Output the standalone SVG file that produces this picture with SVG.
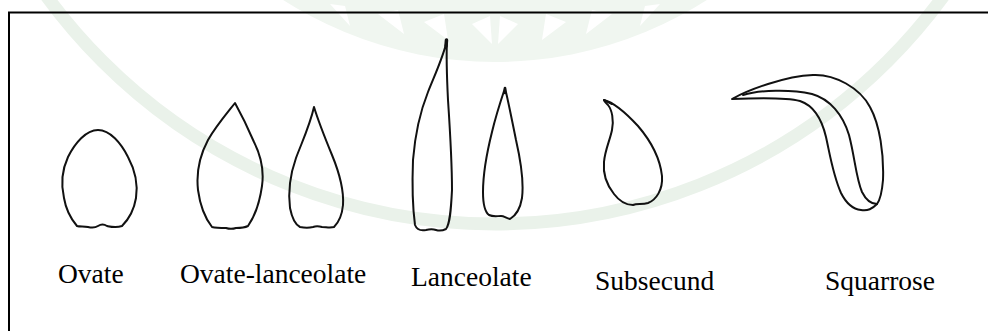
<svg xmlns="http://www.w3.org/2000/svg" width="988" height="331" viewBox="0 0 988 331">
  <style>
    .leaf { fill: none; stroke: #111; stroke-width: 2; stroke-linejoin: round; stroke-linecap: round; }
    .label { font-family: "Liberation Serif", "Times New Roman", serif; font-size: 27.5px; fill: #000; }
    .seal-ring { fill: none; stroke: #eaf2ea; stroke-width: 13; }
    .seal-disk { fill: #f0f6f0; }
    .seal-cut { fill: #ffffff; }
  </style>

  <rect x="0" y="0" width="988" height="331" fill="#ffffff"/>

  <!-- faint seal in the background -->
  <g id="seal">
    <circle class="seal-disk" cx="495" cy="-331" r="393"/>
    <path class="seal-cut" d="M330,4 L350,26 L345,6 Z"/>
    <path class="seal-cut" d="M378,14 L404,34 L398,10 Z"/>
    <path class="seal-cut" d="M424,22 L448,40 L444,14 Z"/>
    <path class="seal-cut" d="M472,24 L492,44 L490,16 Z"/>
    <path class="seal-cut" d="M500,16 L498,44 L518,24 Z"/>
    <path class="seal-cut" d="M546,14 L542,40 L566,22 Z"/>
    <path class="seal-cut" d="M592,10 L586,34 L612,14 Z"/>
    <path class="seal-cut" d="M645,6 L640,26 L660,4 Z"/>
    <circle class="seal-ring" cx="495" cy="-331" r="555"/>
  </g>

  <!-- frame -->
  <path d="M9,331 V12.5 H988" fill="none" stroke="#000" stroke-width="2"/>

  <g id="ovate">
    <path class="leaf" d="M98,130 C110,130 121,143 128,157 C135,170 138,185 136,198 C134,210 128,220 122,226 C116,228 112,227 107,226 C104,224 101,224 98,226 C95,228 92,228 88,227 C84,226 80,227 77,226 C71,219 66,210 64,198 C61,185 62,170 68,157 C75,143 86,130 98,130 Z"/>
    <text class="label" x="58" y="283">Ovate</text>
  </g>

  <g id="ovate-lanceolate">
    <path class="leaf" d="M235,103 C240,112 248,128 254,142 C261,156 264,172 262,186 C260,200 255,216 248,226 C244,228 240,228 236,228 C233,229 229,229 226,228 C221,228 216,228 212,227 C205,218 200,205 198,190 C196,172 200,155 208,140 C216,126 228,112 235,103 Z"/>
    <path class="leaf" d="M314,107 C318,120 325,138 332,155 C339,172 344,190 343,205 C342,216 338,223 334,227 C330,228 326,227 322,227 C318,226 316,226 313,227 C309,228 305,228 300,227 C296,225 292,218 290,208 C288,192 290,175 296,158 C302,142 310,125 314,107 Z"/>
    <text class="label" x="180" y="283">Ovate-lanceolate</text>
  </g>

  <g id="lanceolate">
    <path class="leaf" d="M447,40 C444,55 436,72 428,92 C420,112 415,135 413,160 C412,185 413,210 415,225 C417,230 421,231 426,230 C430,229 433,229 436,230 C439,231 442,231 446,229 C450,224 451,210 452,190 C452,160 450,130 448,100 C447,80 446,60 447,40 Z"/>
    <path d="M446.5,40 L446,46" stroke="#111" stroke-width="3.5" stroke-linecap="round"/>
    <path class="leaf" d="M505,88 C501,100 496,115 492,132 C487,152 483,172 483,192 C483,205 485,212 489,215 C493,217 497,216 501,216 C504,216 506,218 510,219 C515,216 520,210 522,198 C524,182 521,162 516,140 C512,120 508,100 505,88 Z"/>
    <path d="M505,88 L505,93" stroke="#111" stroke-width="2.6" stroke-linecap="round"/>
    <text class="label" x="411" y="286">Lanceolate</text>
  </g>

  <g id="subsecund">
    <path class="leaf" d="M604,100 C612,102 625,112 638,126 C650,140 660,158 662,176 C663,190 656,200 648,203 C642,205 637,203 633,205 C627,205 620,202 614,194 C606,184 603,172 604,162 C605,150 610,140 612,130 C614,120 612,110 608,105 C606,103 604,101 604,100 Z"/>
    <path class="leaf" d="M604,100 L612,104"/>
    <text class="label" x="595" y="290">Subsecund</text>
  </g>

  <g id="squarrose">
    <path class="leaf" d="M732,99 C748,90 785,76 813,75 C835,74 860,88 870,107 C880,125 884,155 883,180 C882,192 880,200 877,204 C872,209 868,211 861,210 C852,209 846,203 841,193 C833,175 830,155 826,137 C822,120 815,106 800,101 C785,97 755,98 732,99 Z"/>
    <path class="leaf" d="M743,95 C760,90 790,89 812,94 C830,99 843,115 849,135 C855,158 856,178 862,192 C866,200 872,204 877,204"/>
    <text class="label" x="825" y="290">Squarrose</text>
  </g>
</svg>
